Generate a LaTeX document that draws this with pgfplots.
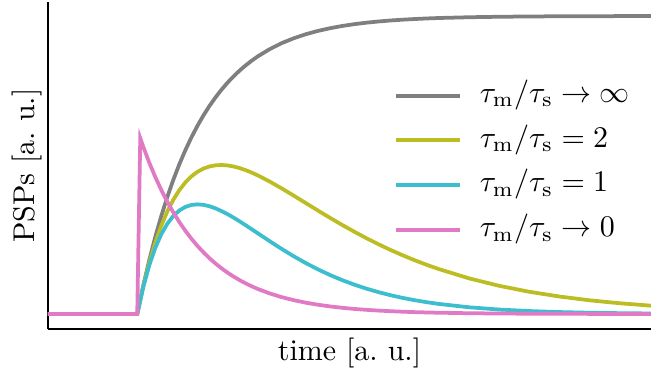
\documentclass[border=0pt]{standalone}
\usepackage{pgfplots}
\pgfplotsset{compat=1.18}

\definecolor{tabgray}{HTML}{7F7F7F}
\definecolor{tabolive}{HTML}{BCBD22}
\definecolor{tabcyan}{HTML}{3CBECE}
\definecolor{tabpink}{HTML}{E17AC4}

\begin{document}
\begin{tikzpicture}
\begin{axis}[
  scale only axis,
  width=201pt, height=109pt,
  xmin=0, xmax=10,
  ymin=-0.0505, ymax=1.047,
  axis x line*=bottom,
  axis y line*=left,
  axis line style={-, line width=0.8pt},
  xtick=\empty, ytick=\empty,
  xlabel={time [a.~u.]},
  ylabel={PSPs [a.~u.]},
  xlabel style={at={(axis description cs:0.5,-0.0245)}, anchor=north, inner sep=0pt},
  ylabel style={at={(axis description cs:-0.0083,0.5)}, anchor=south, inner sep=0pt},
  legend style={draw=none, fill=none, at={(axis description cs:0.573,0.759)},
    anchor=north west, inner sep=0pt, row sep=5.4pt,
    nodes={inner sep=0pt, text height=7pt, text depth=2.5pt}},
  legend cell align=left,
  legend image code/.code={\draw[#1] (0pt,0pt) -- (21.3pt,0pt); \path (27.3pt,0pt);},
]
% PSP after a spike at t = 1.48 (tau_s = 1), tau_m -> infinity
\addplot[tabgray, line width=1.25pt] coordinates {
(0.00,0.0000) (1.48,0.0000) (1.58,0.0952) (1.68,0.1813) (1.78,0.2592)
(1.88,0.3297) (1.98,0.3935) (2.08,0.4512) (2.18,0.5034) (2.28,0.5507)
(2.38,0.5934) (2.48,0.6321) (2.58,0.6671) (2.68,0.6988) (2.78,0.7275)
(2.88,0.7534) (2.98,0.7769) (3.08,0.7981) (3.18,0.8173) (3.28,0.8347)
(3.38,0.8504) (3.48,0.8647) (3.68,0.8892) (3.88,0.9093) (4.08,0.9257)
(4.28,0.9392) (4.48,0.9502) (4.68,0.9592) (4.88,0.9666) (5.08,0.9727)
(5.28,0.9776) (5.48,0.9817) (5.68,0.9850) (5.88,0.9877) (6.08,0.9899)
(6.28,0.9918) (6.48,0.9933) (6.98,0.9959) (7.48,0.9975) (7.98,0.9985)
(8.48,0.9991) (8.98,0.9994) (9.48,0.9997) (10.00,0.9998)
};
% tau_m = 2 tau_s
\addplot[tabolive, line width=1.25pt] coordinates {
(0.00,0.0000) (1.48,0.0000) (1.58,0.0928) (1.68,0.1722) (1.78,0.2398)
(1.88,0.2968) (1.98,0.3445) (2.08,0.3840) (2.18,0.4162) (2.28,0.4420)
(2.38,0.4621) (2.48,0.4773) (2.58,0.4882) (2.68,0.4952) (2.78,0.4990)
(2.88,0.5000) (2.98,0.4985) (3.08,0.4949) (3.18,0.4895) (3.28,0.4825)
(3.38,0.4743) (3.48,0.4651) (3.68,0.4441) (3.88,0.4210) (4.08,0.3965)
(4.28,0.3716) (4.48,0.3467) (4.68,0.3223) (4.88,0.2986) (5.08,0.2760)
(5.28,0.2544) (5.48,0.2340) (5.68,0.2149) (5.88,0.1971) (6.08,0.1804)
(6.28,0.1650) (6.48,0.1507) (6.98,0.1197) (7.48,0.0946) (7.98,0.0745)
(8.48,0.0586) (8.98,0.0459) (9.48,0.0360) (10.00,0.0278)
};
% tau_m = tau_s
\addplot[tabcyan, line width=1.25pt] coordinates {
(0.00,0.0000) (1.48,0.0000) (1.58,0.0905) (1.68,0.1637) (1.78,0.2222)
(1.88,0.2681) (1.98,0.3033) (2.08,0.3293) (2.18,0.3476) (2.28,0.3595)
(2.38,0.3659) (2.48,0.3679) (2.58,0.3662) (2.68,0.3614) (2.78,0.3543)
(2.88,0.3452) (2.98,0.3347) (3.08,0.3230) (3.18,0.3106) (3.28,0.2975)
(3.38,0.2842) (3.48,0.2707) (3.68,0.2438) (3.88,0.2177) (4.08,0.1931)
(4.28,0.1703) (4.48,0.1494) (4.68,0.1304) (4.88,0.1135) (5.08,0.0984)
(5.28,0.0850) (5.48,0.0733) (5.68,0.0630) (5.88,0.0540) (6.08,0.0462)
(6.28,0.0395) (6.48,0.0337) (6.98,0.0225) (7.48,0.0149) (7.98,0.0098)
(8.48,0.0064) (8.98,0.0041) (9.48,0.0027) (10.00,0.0017)
};
% tau_m -> 0: the PSP follows the synaptic current
\addplot[tabpink, line width=1.25pt] coordinates {
(0.00,0.0000) (1.48,0.0000) (1.53,0.5900) (1.58,0.5610) (1.68,0.5076)
(1.78,0.4593) (1.88,0.4156) (1.98,0.3760) (2.08,0.3403) (2.18,0.3079)
(2.28,0.2786) (2.38,0.2521) (2.48,0.2281) (2.58,0.2064) (2.68,0.1867)
(2.78,0.1690) (2.88,0.1529) (2.98,0.1383) (3.08,0.1252) (3.18,0.1133)
(3.28,0.1025) (3.38,0.0927) (3.48,0.0839) (3.68,0.0687) (3.88,0.0562)
(4.08,0.0461) (4.28,0.0377) (4.48,0.0309) (4.68,0.0253) (4.88,0.0207)
(5.08,0.0169) (5.28,0.0139) (5.48,0.0114) (5.68,0.0093) (5.88,0.0076)
(6.08,0.0062) (6.28,0.0051) (6.48,0.0042) (6.98,0.0025) (7.48,0.0015)
(7.98,0.0009) (8.48,0.0006) (8.98,0.0003) (9.48,0.0002) (10.00,0.0001)
};
\legend{{$\tau_{\mathrm{m}}/\tau_{\mathrm{s}}\rightarrow\infty$},
        {$\tau_{\mathrm{m}}/\tau_{\mathrm{s}}=2$},
        {$\tau_{\mathrm{m}}/\tau_{\mathrm{s}}=1$},
        {$\tau_{\mathrm{m}}/\tau_{\mathrm{s}}\rightarrow 0$}}
\end{axis}
% page margins around the axes
\pgfresetboundingbox
\path[use as bounding box]
  ([xshift=-16pt, yshift=-14.3pt]current axis.south west)
  rectangle ([yshift=0.67pt]current axis.north east);
\end{tikzpicture}
\end{document}
